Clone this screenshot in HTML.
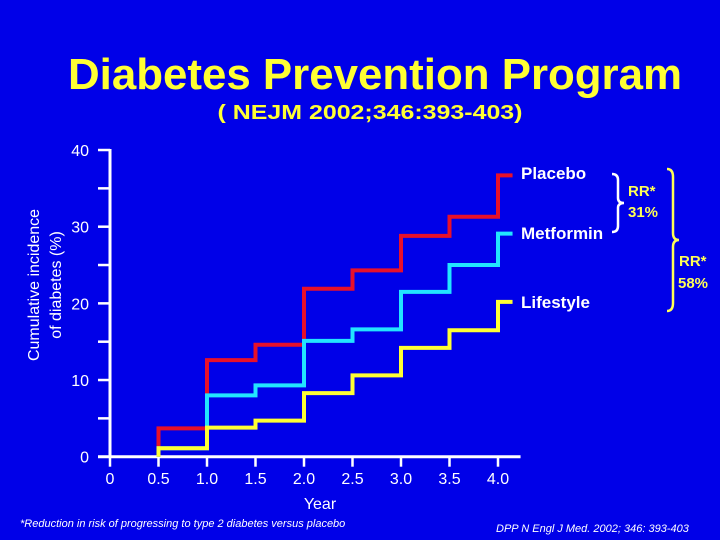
<!DOCTYPE html>
<html><head><meta charset="utf-8"><style>
html,body{margin:0;padding:0;background:#0000e8;}
svg{display:block;font-family:"Liberation Sans",Arial,sans-serif;}
</style></head><body>
<svg id="chart" width="720" height="540" viewBox="0 0 720 540">
<rect x="0" y="0" width="720" height="540" fill="#0000e8"/>
<text x="375" y="89" text-anchor="middle" font-size="44" font-weight="bold" fill="#ffff33" textLength="614" lengthAdjust="spacingAndGlyphs">Diabetes Prevention Program</text>
<text x="370" y="119" text-anchor="middle" font-size="20" font-weight="bold" fill="#ffff33" textLength="305" lengthAdjust="spacingAndGlyphs">( NEJM 2002;346:393-403)</text>
<g>
<text transform="translate(39,285) rotate(-90)" text-anchor="middle" font-size="16" fill="#ffffff">Cumulative incidence</text>
<text transform="translate(61,285) rotate(-90)" text-anchor="middle" font-size="16" fill="#ffffff">of diabetes (%)</text>
</g>
<g id="axes"></g>
<g id="series"></g>
<text x="320" y="509" text-anchor="middle" font-size="16" fill="#ffffff">Year</text>
<g>
<text x="521" y="179" font-size="17" font-weight="bold" fill="#ffffff">Placebo</text>
<text x="521" y="239" font-size="17" font-weight="bold" fill="#ffffff">Metformin</text>
<text x="521" y="308" font-size="17" font-weight="bold" fill="#ffffff">Lifestyle</text>
</g>
<path d="M612,174 q6,0 6,6 v18 q0,5 6,5 q-6,0 -6,5 v18 q0,6 -6,6" fill="none" stroke="#ffffff" stroke-width="2.5"/>
<text x="628" y="196" font-size="15" font-weight="bold" fill="#ffff55">RR*</text>
<text x="628" y="217" font-size="15" font-weight="bold" fill="#ffff55">31%</text>
<path d="M667,169 q6,0 6,8 v56 q0,7 6,7 q-6,0 -6,7 v56 q0,8 -6,8" fill="none" stroke="#ffff55" stroke-width="2.5"/>
<text x="679" y="266" font-size="15" font-weight="bold" fill="#ffff55">RR*</text>
<text x="678" y="288" font-size="15" font-weight="bold" fill="#ffff55">58%</text>
<text x="20" y="527" font-size="11" font-style="italic" fill="#ffffff">*Reduction in risk of progressing to type 2 diabetes versus placebo</text>
<text x="496" y="532" font-size="11" font-style="italic" fill="#ffffff">DPP N Engl J Med. 2002; 346: 393-403</text>
</svg>
<script>
const xTicks = [0, 0.5, 1.0, 1.5, 2.0, 2.5, 3.0, 3.5, 4.0];
const xTickLabels = ["0", "0.5", "1.0", "1.5", "2.0", "2.5", "3.0", "3.5", "4.0"];
const yTicks = [0, 5, 10, 15, 20, 25, 30, 35, 40];
const yTickLabels = ["0", "", "10", "", "20", "", "30", "", "40"];
const stepTimes = [0.5, 1.0, 1.5, 2.0, 2.5, 3.0, 3.5, 4.0, 4.15];
const placebo = [3.7, 12.6, 14.6, 21.9, 24.3, 28.8, 31.3, 36.7];
const metformin = [1.1, 8.0, 9.3, 15.1, 16.6, 21.5, 25.0, 29.1];
const lifestyle = [1.1, 3.8, 4.7, 8.3, 10.6, 14.2, 16.5, 20.2];

const NS = "http://www.w3.org/2000/svg";
function xs(v){ return 110 + v * 97; }
function ys(v){ return 456.7 - v * 7.667; }
function mk(tag, attrs, parent){
  const el = document.createElementNS(NS, tag);
  for (const k in attrs) el.setAttribute(k, attrs[k]);
  parent.appendChild(el);
  return el;
}
const axes = document.getElementById("axes");
const series = document.getElementById("series");
let el = mk("line", {x1: xs(0) - 12, y1: ys(0), x2: xs(4.15) + 8, y2: ys(0), stroke: "#fff", "stroke-width": 3}, axes);


el = mk("line", {x1: xs(0), y1: ys(0), x2: xs(0), y2: ys(40) - 1, stroke: "#fff", "stroke-width": 3}, axes);


yTicks.forEach((t, i) => {
  const tk = mk("line", {x1: xs(0) - 12, y1: ys(t), x2: xs(0), y2: ys(t), stroke: "#fff", "stroke-width": 2.5}, axes);
  
  
  if (yTickLabels[i]) {
    const tx = mk("text", {x: 89, y: ys(t) + 6, "text-anchor": "end", "font-size": 16, fill: "#fff"}, axes);
    tx.textContent = yTickLabels[i];
    
    
  }
});
xTicks.forEach((t, i) => {
  const tk = mk("line", {x1: xs(t), y1: ys(0), x2: xs(t), y2: ys(0) + 10, stroke: "#fff", "stroke-width": 2.5}, axes);
  
  
  const tx = mk("text", {x: xs(t), y: 484, "text-anchor": "middle", "font-size": 16, fill: "#fff"}, axes);
  tx.textContent = xTickLabels[i];
  
  
});
function stepPath(vals, start){
  let d = "M" + xs(stepTimes[0]) + "," + ys(start);
  for (let i = 0; i < vals.length; i++) {
    d += " L" + xs(stepTimes[i]) + "," + ys(vals[i]) + " L" + xs(stepTimes[i + 1]) + "," + ys(vals[i]);
  }
  return d;
}
let p = mk("path", {d: stepPath(placebo, 0), fill: "none", stroke: "#e8102a", "stroke-width": 4}, series);


p = mk("path", {d: stepPath(metformin, 0), fill: "none", stroke: "#22e4ff", "stroke-width": 4}, series);


p = mk("path", {d: stepPath(lifestyle, 0), fill: "none", stroke: "#ffff33", "stroke-width": 4}, series);


</script>
</body></html>
